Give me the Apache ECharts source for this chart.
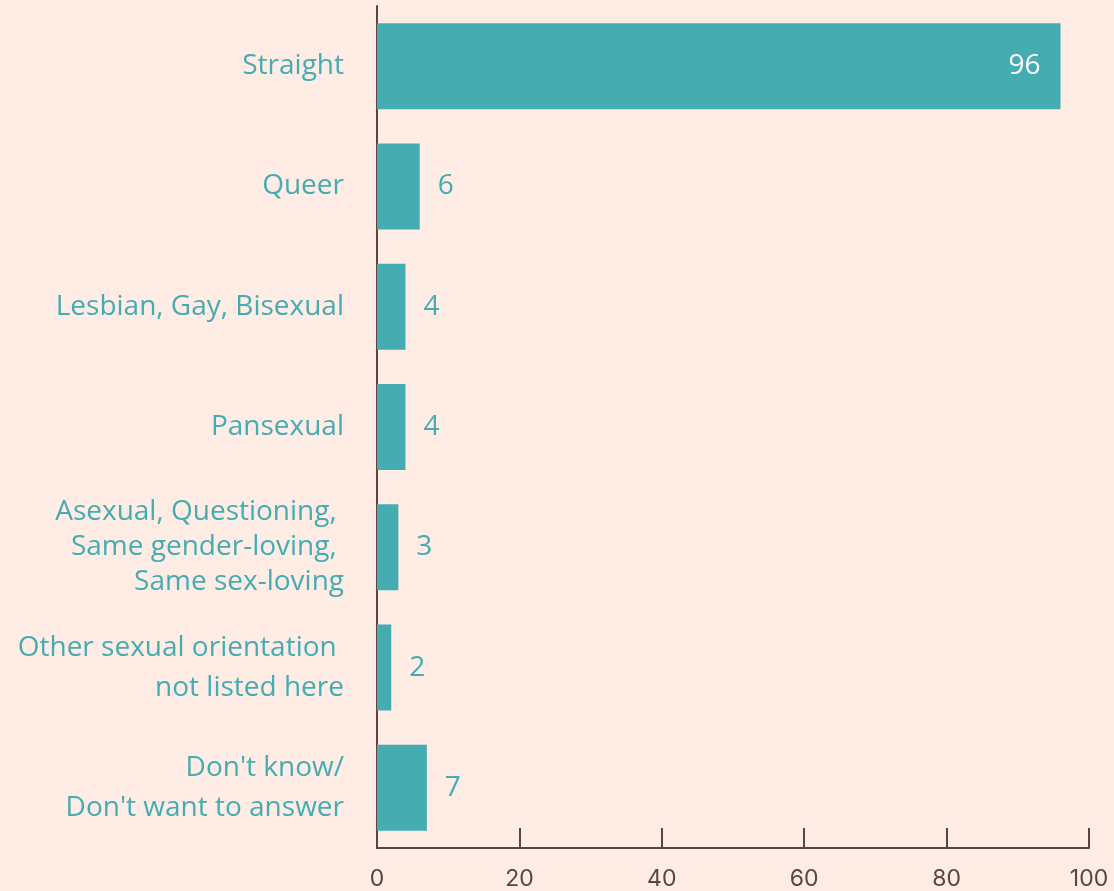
<!DOCTYPE html>
<html><head><meta charset="utf-8">
<script src="https://cdn.jsdelivr.net/npm/echarts@6/dist/echarts.min.js"></script>
<style>html,body{margin:0;padding:0;background:#FFECE5;}#c{width:1114px;height:891px;}</style>
</head><body><div id="c"></div>
<script>
var categories = ["Straight","Queer","Lesbian, Gay, Bisexual","Pansexual","Asexual, Questioning, \nSame gender-loving, \nSame sex-loving","Other sexual orientation \nnot listed here","Don't know/\nDon't want to answer"];
var values = [96, 6, 4, 4, 3, 2, 7];
var xTicks = [0, 20, 40, 60, 80, 100];

var teal = '#45ACB2', brown = '#5E4341';
var chart = echarts.init(document.getElementById('c'));
chart.setOption({
  backgroundColor: '#FFECE5',
  animation: false,
  grid: {left: 377, right: 25, top: 6, bottom: 43, containLabel: false},
  xAxis: {
    type: 'value', min: xTicks[0], max: xTicks[xTicks.length-1], interval: 20,
    axisLine: {show: true, lineStyle: {color: brown, width: 2}},
    axisTick: {show: true, inside: true, length: 20, lineStyle: {color: brown, width: 2}},
    splitLine: {show: false},
    axisLabel: {color: brown, fontSize: 23, fontFamily: 'Inter', margin: 20}
  },
  yAxis: {
    type: 'category', inverse: true,
    data: categories.map(function(c){
      var lines = c.split('\n').length;
      return {value: c, textStyle: {lineHeight: lines > 2 ? 35 : 40}};
    }),
    axisLine: {show: true, lineStyle: {color: brown, width: 2}},
    axisTick: {show: true, inside: true, alignWithLabel: true, length: 5, lineStyle: {color: brown}},
    axisLabel: {color: teal, fontSize: 28, fontFamily: 'Open Sans', margin: 33, align: 'right', padding: [6, 0, 0, 0]}
  },
  series: [{
    type: 'bar', data: values.map(function(v, i){
      return i === 0 ? {value: v, label: {position: 'insideRight', color: '#ffffff', distance: 20}} : v;
    }),
    barCategoryGap: '28.5%',
    itemStyle: {color: teal},
    label: {show: true, position: 'right', distance: 18, color: teal, fontSize: 28, fontFamily: 'Open Sans'}
  }]
});
</script></body></html>
